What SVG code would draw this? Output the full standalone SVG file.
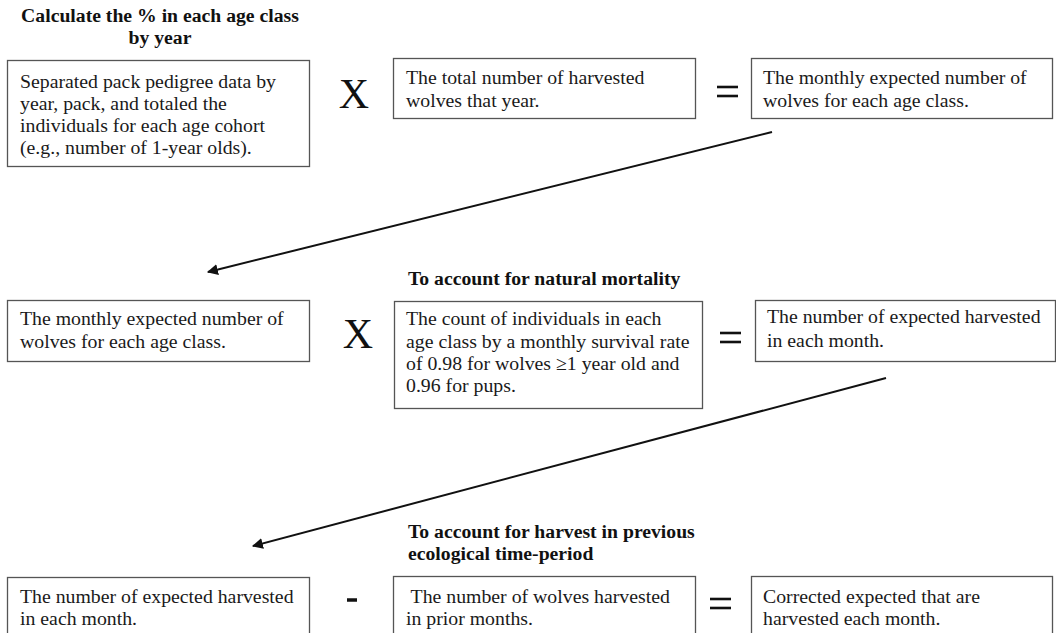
<svg xmlns="http://www.w3.org/2000/svg" width="1056" height="633" viewBox="0 0 1056 633">
<style>
.box{fill:#fff;stroke:#555;stroke-width:1.3}
.t{font-family:"Liberation Serif",serif;font-size:19.8px;fill:#1a1a1a}
.h{font-family:"Liberation Serif",serif;font-size:19.7px;font-weight:bold;fill:#111}
.op{font-family:"Liberation Serif",serif;font-size:42px;fill:#111;text-anchor:middle}
.eq{stroke:#111;stroke-width:2.6}
.conn{stroke:#111;stroke-width:2;fill:none}
</style>
<defs>
<marker id="ah" viewBox="0 0 10 10" refX="9" refY="5" markerWidth="5.5" markerHeight="5.5" orient="auto" markerUnits="strokeWidth">
<path d="M0,0 L10,5 L0,10 z" fill="#111"/>
</marker>
</defs>
<rect width="1056" height="633" fill="#fff"/>

<g id="title1">
<text class="h" x="160" y="22" text-anchor="middle">Calculate the % in each age class</text>
<text class="h" x="160" y="44" text-anchor="middle">by year</text>
</g>
<g id="box1">
<rect class="box" x="7.5" y="60.5" width="302" height="106"/>
<text class="t" x="20" y="88">Separated pack pedigree data by</text>
<text class="t" x="20" y="110">year, pack, and totaled the</text>
<text class="t" x="20" y="132">individuals for each age cohort</text>
<text class="t" x="20" y="154">(e.g., number of 1-year olds).</text>
</g>
<g id="op1"><text class="op" x="354" y="108">X</text></g>
<g id="box2">
<rect class="box" x="393.5" y="58.5" width="302" height="60"/>
<text class="t" x="406" y="84">The total number of harvested</text>
<text class="t" x="406" y="107">wolves that year.</text>
</g>
<g id="op2"><line class="eq" x1="717" y1="87" x2="738" y2="87"/><line class="eq" x1="717" y1="96" x2="738" y2="96"/></g>
<g id="box3">
<rect class="box" x="751.5" y="58.5" width="301" height="60"/>
<text class="t" x="763" y="84">The monthly expected number of</text>
<text class="t" x="763" y="107">wolves for each age class.</text>
</g>

<g id="title2">
<text class="h" x="408" y="285">To account for natural mortality</text>
</g>
<g id="box4">
<rect class="box" x="7.5" y="300.5" width="302" height="61"/>
<text class="t" x="20" y="325">The monthly expected number of</text>
<text class="t" x="20" y="348">wolves for each age class.</text>
</g>
<g id="op3"><text class="op" x="358" y="348">X</text></g>
<g id="box5">
<rect class="box" x="394.5" y="301.5" width="308" height="107"/>
<text class="t" x="406" y="325">The count of individuals in each</text>
<text class="t" x="406" y="348">age class by a monthly survival rate</text>
<text class="t" x="406" y="370">of 0.98 for wolves ≥1 year old and</text>
<text class="t" x="406" y="392">0.96 for pups.</text>
</g>
<g id="op4"><line class="eq" x1="720" y1="333" x2="741" y2="333"/><line class="eq" x1="720" y1="342" x2="741" y2="342"/></g>
<g id="box6">
<rect class="box" x="755.5" y="300.5" width="300" height="61"/>
<text class="t" x="767" y="323">The number of expected harvested</text>
<text class="t" x="767" y="347">in each month.</text>
</g>

<g id="title3">
<text class="h" x="408" y="538">To account for harvest in previous</text>
<text class="h" x="408" y="560">ecological time-period</text>
</g>
<g id="box7">
<rect class="box" x="7.5" y="577.5" width="302" height="70"/>
<text class="t" x="20" y="603">The number of expected harvested</text>
<text class="t" x="20" y="625">in each month.</text>
</g>
<g id="op5"><line class="eq" x1="347" y1="600" x2="357" y2="600" style="stroke-width:3.5"/></g>
<g id="box8">
<rect class="box" x="393.5" y="576.5" width="302" height="70"/>
<text class="t" x="406" y="603" xml:space="preserve"> The number of wolves harvested</text>
<text class="t" x="406" y="625">in prior months.</text>
</g>
<g id="op6"><line class="eq" x1="710" y1="599" x2="731" y2="599"/><line class="eq" x1="710" y1="608" x2="731" y2="608"/></g>
<g id="box9">
<rect class="box" x="751.5" y="576.5" width="301" height="70"/>
<text class="t" x="763" y="603">Corrected expected that are</text>
<text class="t" x="763" y="625">harvested each month.</text>
</g>

<g id="connectors">
<line class="conn" x1="772" y1="132" x2="208" y2="272" marker-end="url(#ah)"/>
<line class="conn" x1="886" y1="378" x2="253" y2="546" marker-end="url(#ah)"/>
</g>
</svg>
